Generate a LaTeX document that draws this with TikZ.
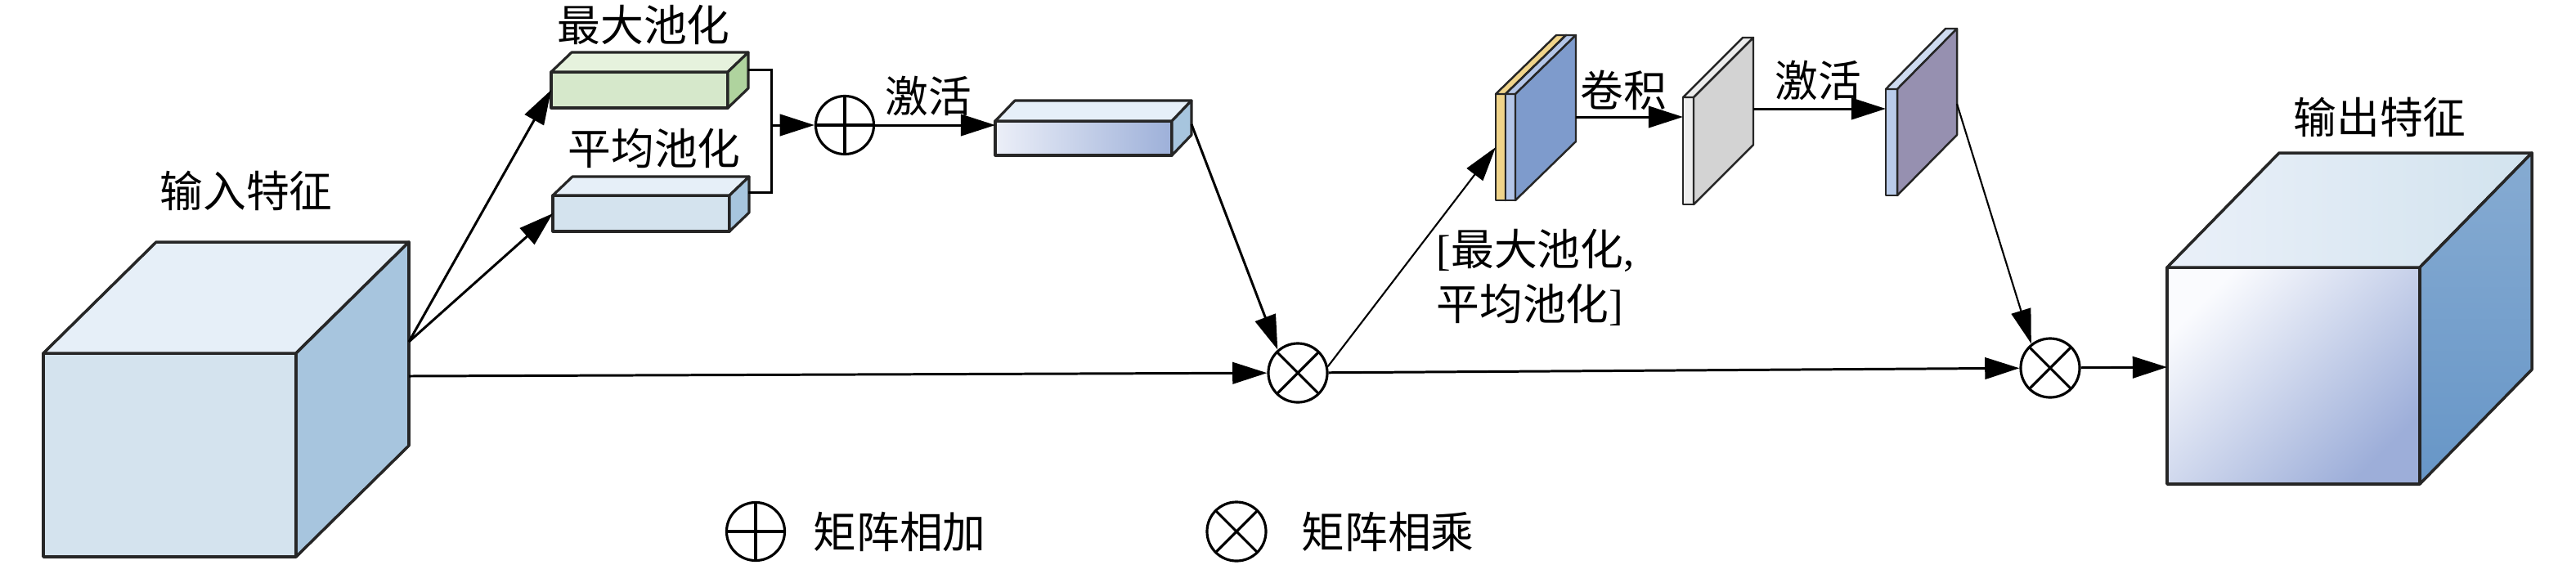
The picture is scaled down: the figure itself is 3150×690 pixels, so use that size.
\documentclass[tikz,border=0pt]{standalone}
\usepackage{fontspec}
\setmainfont{Liberation Serif}
\newfontfamily\cjk{Noto Sans CJK SC}
\usetikzlibrary{arrows.meta,calc}
\definecolor{cubeF}{HTML}{D4E3EE}
\definecolor{cubeT}{HTML}{E6EFF8}
\definecolor{cubeR}{HTML}{A7C5DE}
\definecolor{grnF}{HTML}{D6E8CB}
\definecolor{grnT}{HTML}{E6F2DD}
\definecolor{grnR}{HTML}{AFD39E}
\definecolor{actL}{HTML}{ECEFF8}
\definecolor{actR}{HTML}{9DB0D9}
\definecolor{yel}{HTML}{F0D48A}
\definecolor{ltb}{HTML}{B4C6E8}
\definecolor{blu}{HTML}{7E9BCC}
\definecolor{gryF}{HTML}{EDEDED}
\definecolor{gryS}{HTML}{D3D3D3}
\definecolor{purS}{HTML}{9690B0}
\definecolor{purF}{HTML}{B9CBEA}
\definecolor{outA}{HTML}{FAFBFE}
\definecolor{outB}{HTML}{9DAED9}
\definecolor{outTL}{HTML}{EAF0F9}
\definecolor{outTR}{HTML}{D2E3EE}
\definecolor{outRT}{HTML}{86ABD2}
\definecolor{outRB}{HTML}{6796C7}
\definecolor{edge}{HTML}{262626}
\tikzset{
  ol/.style={draw=edge, line width=1pt, line join=round},
  arr/.style={line width=0.85pt, -{Triangle[length=12pt,width=7.5pt]}},
  thinarr/.style={line width=0.6pt, -{Triangle[length=12pt,width=7pt]}},
  plain/.style={line width=0.85pt},
  lbl/.style={font=\cjk\fontsize{15pt}{19pt}\selectfont, inner sep=0pt},
  opplus/.style={circle, draw, line width=0.9pt, minimum size=0.71cm, inner sep=0pt,
    path picture={\draw[line width=0.9pt] (path picture bounding box.north) -- (path picture bounding box.south)
      (path picture bounding box.west) -- (path picture bounding box.east);}},
  optimes/.style={circle, draw, line width=0.9pt, minimum size=0.72cm, inner sep=0pt,
    path picture={\draw[line width=0.9pt] (path picture bounding box.north west) -- (path picture bounding box.south east)
      (path picture bounding box.south west) -- (path picture bounding box.north east);}}
}
% x, y (front top-left), w, h, dx, dy, front, top, right
\newcommand\cuboid[9]{%
  \path[#7,ol] (#1,#2) rectangle (#1+#3,#2+#4);
  \path[#8,ol] (#1,#2) -- (#1+#5,#2+#6) -- (#1+#3+#5,#2+#6) -- (#1+#3,#2) -- cycle;
  \path[#9,ol] (#1+#3,#2) -- (#1+#3+#5,#2+#6) -- (#1+#3+#5,#2+#4+#6) -- (#1+#3,#2+#4) -- cycle;
}
\begin{document}
\begin{tikzpicture}[x=0.01cm,y=-0.01cm]
\useasboundingbox (0,0) rectangle (3150,690);

% input cube
\cuboid{53}{432}{309}{249}{138}{-136}{fill=cubeF}{fill=cubeT}{fill=cubeR}
\node[lbl] (tin) at (301,233) {输入特征};

% pooling boxes
\begin{scope}[ol/.style={draw=edge, line width=0.9pt, line join=round}]
\cuboid{674}{88}{216}{44}{25}{-24}{fill=grnF}{fill=grnT}{fill=grnR}
\cuboid{676}{239}{216}{44}{24}{-23}{fill=cubeF}{fill=cubeT}{fill=cubeR}
\cuboid{1217}{148}{216}{42}{24}{-25}{left color=actL, right color=actR}{fill=cubeT}{fill=cubeR}
\end{scope}
\node[lbl] (tmax) at (787,30) {最大池化};
\node[lbl] (tavg) at (800,181) {平均池化};
\node[lbl] (tact1) at (1135,117) {激活};

% planes
\begin{scope}[ol/.style={draw=edge, line width=0.7pt, line join=round}]
\cuboid{1829}{115}{12}{130}{74}{-72}{fill=yel}{fill=yel}{fill=yel}
\cuboid{1841}{115}{12}{130}{74}{-72}{fill=ltb}{fill=ltb}{fill=blu}
\cuboid{2058}{119}{13}{131}{73}{-73}{fill=gryF}{fill=gryF}{fill=gryS}
\cuboid{2306}{109}{14}{130}{73}{-74}{fill=purF}{fill=purF!70!white}{fill=purS}
\end{scope}
\node[lbl] (tconv) at (1985,110) {卷积};
\node[lbl] (tact2) at (2223,98) {激活};
\node[lbl, anchor=west, align=left] (tcat) at (1756,339) {\rmfamily[\cjk 最大池化\rmfamily,\\\cjk 平均池化\rmfamily]};

% output cube
\cuboid{2650}{327}{309}{265}{137}{-140}{top color=outA, bottom color=outB, shading angle=45}{left color=outTL, right color=outTR}{top color=outRT, bottom color=outRB}
\node[lbl] (tout) at (2910,143) {输出特征};

% operators
\node[opplus] (plus) at (1033,153) {};
\node[optimes] (m1) at (1587,456) {};
\node[optimes] (m2) at (2507,450) {};

% attachment points
\coordinate (inA) at (500,418);
\coordinate (inB) at (500,460);
\coordinate (maxIn) at (674,110);
\coordinate (avgIn) at (676,261);
\coordinate (maxOut) at (915,85);
\coordinate (avgOut) at (915,235);
\coordinate (brk) at (943,153);
\coordinate (actIn) at (1217,153);
\coordinate (actOut) at (1457,152);
\coordinate (catIn) at (1829,180);
\coordinate (catOut) at (1927,143);
\coordinate (gryIn) at (2058,143);
\coordinate (gryOut) at (2144,133);
\coordinate (purIn) at (2306,133);
\coordinate (purOut) at (2393,127);
\coordinate (outIn) at (2650,449);

% connectors
\draw[arr] (inA) -- (maxIn);
\draw[arr] (inA) -- (avgIn);
\draw[plain] (maxOut) -| (brk) |- (avgOut);
\draw[arr] (brk) -- (plus);
\draw[arr] (plus) -- (actIn);
\draw[arr] (actOut) -- (m1.131);
\draw[arr] (inB) -- (m1);
\draw[thinarr] (m1.12) -- (catIn);
\draw[arr] (m1) -- (m2);
\draw[arr] (catOut) -- (gryIn);
\draw[arr] (gryOut) -- (purIn);
\draw[thinarr] (purOut) -- (m2.128);
\draw[arr] (m2) -- (outIn);

% legend
\node[opplus] (lplus) at (924,650) {};
\node[lbl] (tplus) at (1100,650) {矩阵相加};
\node[optimes] (ltimes) at (1512,650) {};
\node[lbl] (ttimes) at (1697,650) {矩阵相乘};
\end{tikzpicture}
\end{document}
